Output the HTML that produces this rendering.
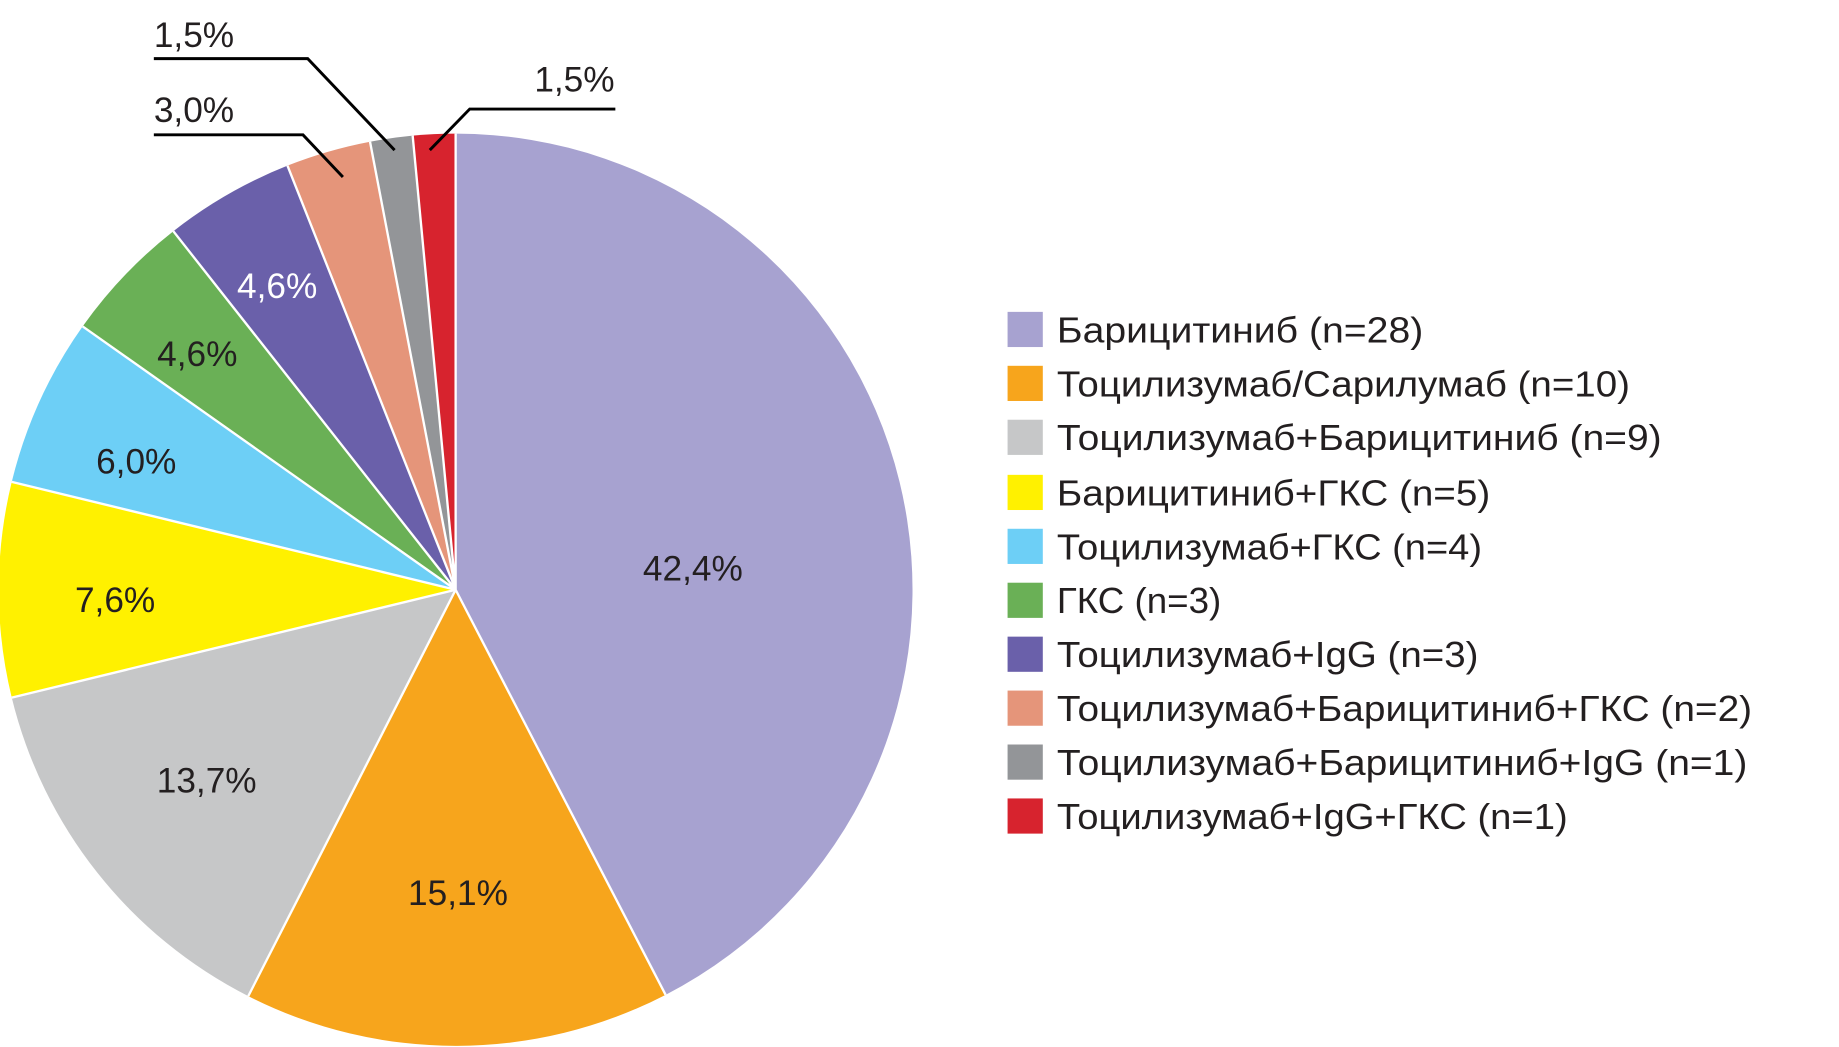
<!DOCTYPE html>
<html><head><meta charset="utf-8"><style>
html,body{margin:0;padding:0;background:#fff;}
svg{display:block;}
text{font-family:"Liberation Sans","DejaVu Sans",sans-serif;}
</style></head><body>
<svg width="1839" height="1047" viewBox="0 0 1566 893" preserveAspectRatio="none" xmlns="http://www.w3.org/2000/svg">
<g stroke="none">
<path d="M388,503 L388,114 A389,389 0 0 1 566.8,848.5 Z" fill="#a7a2d0"/>
<path d="M388,503 L566.8,848.5 A389,389 0 0 1 211.4,849.6 Z" fill="#f7a51c"/>
<path d="M388,503 L211.4,849.6 A389,389 0 0 1 10.0,595.0 Z" fill="#c6c7c8"/>
<path d="M388,503 L10.0,595.0 A389,389 0 0 1 10.0,411.0 Z" fill="#fff100"/>
<path d="M388,503 L10.0,411.0 A389,389 0 0 1 70.4,278.4 Z" fill="#6dcff6"/>
<path d="M388,503 L70.4,278.4 A389,389 0 0 1 147.6,197.2 Z" fill="#6ab056"/>
<path d="M388,503 L147.6,197.2 A389,389 0 0 1 244.8,141.3 Z" fill="#6a60aa"/>
<path d="M388,503 L244.8,141.3 A389,389 0 0 1 315.1,120.9 Z" fill="#e5957a"/>
<path d="M388,503 L315.1,120.9 A389,389 0 0 1 351.4,115.7 Z" fill="#939598"/>
<path d="M388,503 L351.4,115.7 A389,389 0 0 1 388,114 Z" fill="#d7232e"/>
</g>
<g stroke="#fff" stroke-width="2" fill="none">
<path d="M388,503 L388,114 M388,503 L566.8,848.5 M388,503 L211.4,849.6 M388,503 L10,595 M388,503 L10,411 M388,503 L70.4,278.4 M388,503 L147.6,197.2 M388,503 L244.8,141.3 M388,503 L315.1,120.9 M388,503 L351.4,115.7"/>
</g>
<g font-size="30" fill="#231f20" text-anchor="middle">
<text x="590" y="495">42,4%</text>
<text x="390" y="772">15,1%</text>
<text x="176" y="676">13,7%</text>
<text x="98" y="522">7,6%</text>
<text x="116" y="404">6,0%</text>
<text x="168" y="312">4,6%</text>
<text x="236" y="254" fill="#fff">4,6%</text>
</g>
<g stroke="#000" stroke-width="2.5" fill="none">
<polyline points="131,50 262,50 336,128"/>
<polyline points="131,115 258,115 292,151"/>
<polyline points="524,93 400,93 366,128"/>
</g>
<g font-size="30" fill="#231f20">
<text x="131" y="40">1,5%</text>
<text x="131" y="104">3,0%</text>
<text x="455" y="78">1,5%</text>
</g>
<g>
<rect x="858" y="266" width="30" height="30" fill="#a7a2d0"/>
<rect x="858" y="312" width="30" height="30" fill="#f7a51c"/>
<rect x="858" y="358" width="30" height="30" fill="#c6c7c8"/>
<rect x="858" y="405" width="30" height="30" fill="#fff100"/>
<rect x="858" y="451" width="30" height="30" fill="#6dcff6"/>
<rect x="858" y="497" width="30" height="30" fill="#6ab056"/>
<rect x="858" y="543" width="30" height="30" fill="#6a60aa"/>
<rect x="858" y="589" width="30" height="30" fill="#e5957a"/>
<rect x="858" y="635" width="30" height="30" fill="#939598"/>
<rect x="858" y="681" width="30" height="30" fill="#d7232e"/>
</g>
<g font-size="31" fill="#231f20" lengthAdjust="spacingAndGlyphs">
<text x="900" y="292" textLength="312" lengthAdjust="spacingAndGlyphs">Барицитиниб (n=28)</text>
<text x="900" y="338" textLength="488" lengthAdjust="spacingAndGlyphs">Тоцилизумаб/Сарилумаб (n=10)</text>
<text x="900" y="384" textLength="515" lengthAdjust="spacingAndGlyphs">Тоцилизумаб+Барицитиниб (n=9)</text>
<text x="900" y="431" textLength="369" lengthAdjust="spacingAndGlyphs">Барицитиниб+ГКС (n=5)</text>
<text x="900" y="477" textLength="362" lengthAdjust="spacingAndGlyphs">Тоцилизумаб+ГКС (n=4)</text>
<text x="900" y="523" textLength="140" lengthAdjust="spacingAndGlyphs">ГКС (n=3)</text>
<text x="900" y="569" textLength="359" lengthAdjust="spacingAndGlyphs">Тоцилизумаб+IgG (n=3)</text>
<text x="900" y="615" textLength="592" lengthAdjust="spacingAndGlyphs">Тоцилизумаб+Барицитиниб+ГКС (n=2)</text>
<text x="900" y="661" textLength="588" lengthAdjust="spacingAndGlyphs">Тоцилизумаб+Барицитиниб+IgG (n=1)</text>
<text x="900" y="707" textLength="435" lengthAdjust="spacingAndGlyphs">Тоцилизумаб+IgG+ГКС (n=1)</text>
</g>
</svg>
</body></html>
